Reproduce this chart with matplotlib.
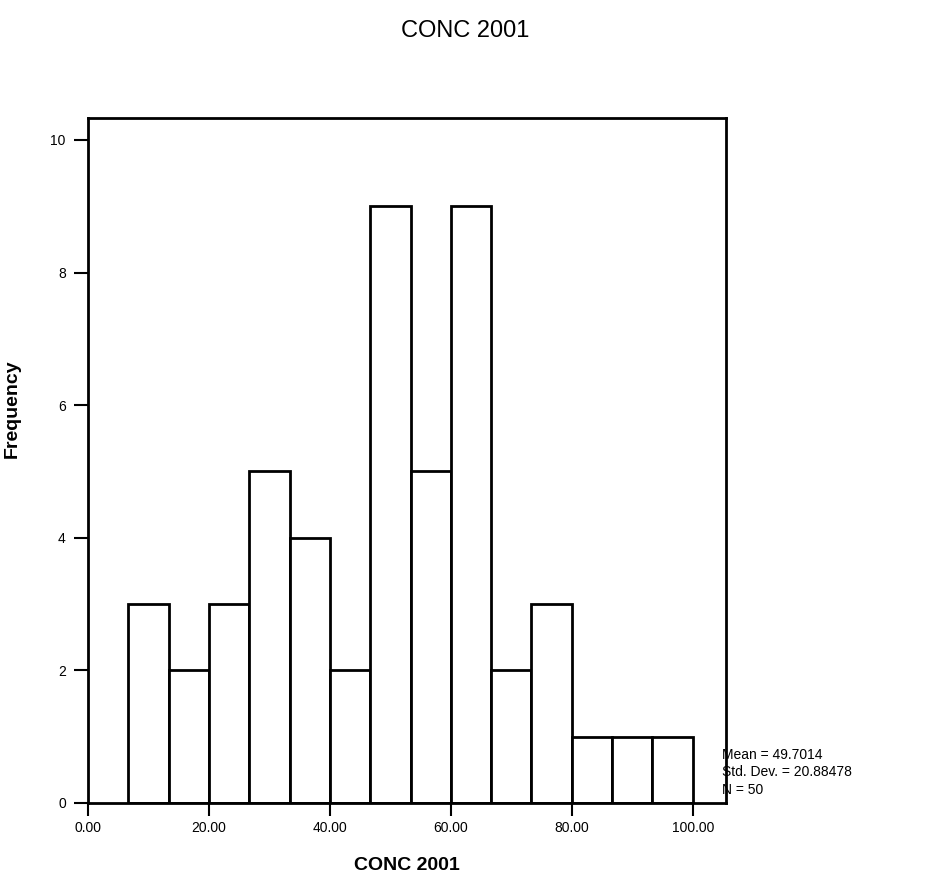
import matplotlib
matplotlib.use("Agg")
import matplotlib.pyplot as plt
import numpy as np

plt.rcParams['font.family'] = ['Liberation Sans', 'DejaVu Sans']

bin_edges = [20/3 * i for i in range(1, 16)]  # 6.67 ... 100
counts = [3, 2, 3, 5, 4, 2, 9, 5, 9, 2, 3, 1, 1, 1]
xticks = [0, 20, 40, 60, 80, 100]
xtick_labels = ["0.00", "20.00", "40.00", "60.00", "80.00", "100.00"]
yticks = [0, 2, 4, 6, 8, 10]
stats = ["Mean = 49.7014", "Std. Dev. = 20.88478", "N = 50"]

fig = plt.figure(figsize=(9.31, 8.92), dpi=100)
ax = fig.add_axes([0.0945, 0.0998, 0.6853, 0.7679])

lefts = bin_edges[:-1]
widths = np.diff(bin_edges)
ax.bar(lefts, counts, width=widths, align='edge', facecolor='white',
       edgecolor='black', linewidth=2)

ax.set_xlim(0, 105.5)
ax.set_ylim(0, 10.33)
ax.set_xticks(xticks)
ax.set_xticklabels(xtick_labels, fontsize=10)
ax.set_yticks(yticks)
ax.set_yticklabels([str(t) for t in yticks], fontsize=10)
ax.tick_params(axis='x', direction='out', length=9, width=1.5, pad=4)
ax.tick_params(axis='y', direction='out', length=10, width=1.5, pad=6)
for s in ax.spines.values():
    s.set_linewidth(2)

ax.set_xlabel("CONC 2001", fontsize=14, fontweight='bold')
ax.xaxis.set_label_coords(0.5, -0.079)
ax.set_ylabel("Frequency", fontsize=14, fontweight='bold')
ax.yaxis.set_label_coords(-0.105, 0.575)
fig.text(0.5, 0.965, "CONC 2001", ha='center', va='center', fontsize=17)

for i, s in enumerate(stats):
    fig.text(0.776, 0.154 - i * 0.020, s, ha='left', va='center', fontsize=10)

fig.savefig("out.png", dpi=100)
